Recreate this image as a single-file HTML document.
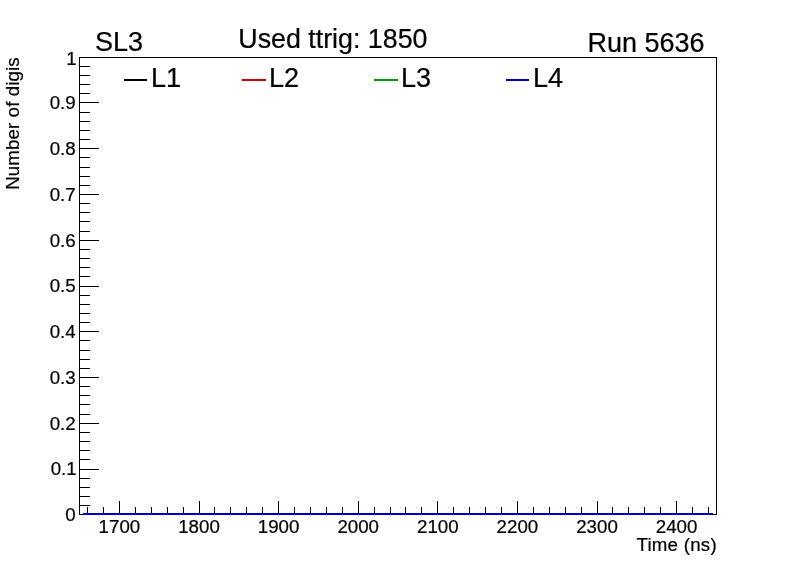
<!DOCTYPE html><html><head><meta charset="utf-8"><title>SL3</title>
<style>html,body{margin:0;padding:0;background:#fff}svg{display:block}text{font-family:"Liberation Sans",Arial,Helvetica,sans-serif;fill:#000;stroke:#000;stroke-width:0.22px;stroke-linejoin:round}</style></head><body>
<svg width="796" height="572" viewBox="0 0 796 572">
<rect width="796" height="572" fill="#fff"/>
<g shape-rendering="crispEdges" stroke="#000" stroke-width="1" fill="none">
<rect x="79.5" y="57.5" width="637" height="457"/>
<line x1="79.5" y1="514.5" x2="98.5" y2="514.5"/>
<line x1="79.5" y1="505.5" x2="89.5" y2="505.5"/>
<line x1="79.5" y1="496.5" x2="89.5" y2="496.5"/>
<line x1="79.5" y1="487.5" x2="89.5" y2="487.5"/>
<line x1="79.5" y1="478.5" x2="89.5" y2="478.5"/>
<line x1="79.5" y1="469.5" x2="98.5" y2="469.5"/>
<line x1="79.5" y1="459.5" x2="89.5" y2="459.5"/>
<line x1="79.5" y1="450.5" x2="89.5" y2="450.5"/>
<line x1="79.5" y1="441.5" x2="89.5" y2="441.5"/>
<line x1="79.5" y1="432.5" x2="89.5" y2="432.5"/>
<line x1="79.5" y1="423.5" x2="98.5" y2="423.5"/>
<line x1="79.5" y1="414.5" x2="89.5" y2="414.5"/>
<line x1="79.5" y1="404.5" x2="89.5" y2="404.5"/>
<line x1="79.5" y1="395.5" x2="89.5" y2="395.5"/>
<line x1="79.5" y1="386.5" x2="89.5" y2="386.5"/>
<line x1="79.5" y1="377.5" x2="98.5" y2="377.5"/>
<line x1="79.5" y1="368.5" x2="89.5" y2="368.5"/>
<line x1="79.5" y1="359.5" x2="89.5" y2="359.5"/>
<line x1="79.5" y1="350.5" x2="89.5" y2="350.5"/>
<line x1="79.5" y1="340.5" x2="89.5" y2="340.5"/>
<line x1="79.5" y1="331.5" x2="98.5" y2="331.5"/>
<line x1="79.5" y1="322.5" x2="89.5" y2="322.5"/>
<line x1="79.5" y1="313.5" x2="89.5" y2="313.5"/>
<line x1="79.5" y1="304.5" x2="89.5" y2="304.5"/>
<line x1="79.5" y1="295.5" x2="89.5" y2="295.5"/>
<line x1="79.5" y1="286.5" x2="98.5" y2="286.5"/>
<line x1="79.5" y1="276.5" x2="89.5" y2="276.5"/>
<line x1="79.5" y1="267.5" x2="89.5" y2="267.5"/>
<line x1="79.5" y1="258.5" x2="89.5" y2="258.5"/>
<line x1="79.5" y1="249.5" x2="89.5" y2="249.5"/>
<line x1="79.5" y1="240.5" x2="98.5" y2="240.5"/>
<line x1="79.5" y1="231.5" x2="89.5" y2="231.5"/>
<line x1="79.5" y1="221.5" x2="89.5" y2="221.5"/>
<line x1="79.5" y1="212.5" x2="89.5" y2="212.5"/>
<line x1="79.5" y1="203.5" x2="89.5" y2="203.5"/>
<line x1="79.5" y1="194.5" x2="98.5" y2="194.5"/>
<line x1="79.5" y1="185.5" x2="89.5" y2="185.5"/>
<line x1="79.5" y1="176.5" x2="89.5" y2="176.5"/>
<line x1="79.5" y1="167.5" x2="89.5" y2="167.5"/>
<line x1="79.5" y1="157.5" x2="89.5" y2="157.5"/>
<line x1="79.5" y1="148.5" x2="98.5" y2="148.5"/>
<line x1="79.5" y1="139.5" x2="89.5" y2="139.5"/>
<line x1="79.5" y1="130.5" x2="89.5" y2="130.5"/>
<line x1="79.5" y1="121.5" x2="89.5" y2="121.5"/>
<line x1="79.5" y1="112.5" x2="89.5" y2="112.5"/>
<line x1="79.5" y1="102.5" x2="98.5" y2="102.5"/>
<line x1="79.5" y1="93.5" x2="89.5" y2="93.5"/>
<line x1="79.5" y1="84.5" x2="89.5" y2="84.5"/>
<line x1="79.5" y1="75.5" x2="89.5" y2="75.5"/>
<line x1="79.5" y1="66.5" x2="89.5" y2="66.5"/>
<line x1="79.5" y1="57.5" x2="98.5" y2="57.5"/>
<line x1="87.5" y1="514.5" x2="87.5" y2="506.5"/>
<line x1="103.5" y1="514.5" x2="103.5" y2="506.5"/>
<line x1="119.5" y1="514.5" x2="119.5" y2="500.5"/>
<line x1="135.5" y1="514.5" x2="135.5" y2="506.5"/>
<line x1="151.5" y1="514.5" x2="151.5" y2="506.5"/>
<line x1="167.5" y1="514.5" x2="167.5" y2="506.5"/>
<line x1="183.5" y1="514.5" x2="183.5" y2="506.5"/>
<line x1="199.5" y1="514.5" x2="199.5" y2="500.5"/>
<line x1="214.5" y1="514.5" x2="214.5" y2="506.5"/>
<line x1="230.5" y1="514.5" x2="230.5" y2="506.5"/>
<line x1="246.5" y1="514.5" x2="246.5" y2="506.5"/>
<line x1="262.5" y1="514.5" x2="262.5" y2="506.5"/>
<line x1="278.5" y1="514.5" x2="278.5" y2="500.5"/>
<line x1="294.5" y1="514.5" x2="294.5" y2="506.5"/>
<line x1="310.5" y1="514.5" x2="310.5" y2="506.5"/>
<line x1="326.5" y1="514.5" x2="326.5" y2="506.5"/>
<line x1="342.5" y1="514.5" x2="342.5" y2="506.5"/>
<line x1="358.5" y1="514.5" x2="358.5" y2="500.5"/>
<line x1="374.5" y1="514.5" x2="374.5" y2="506.5"/>
<line x1="390.5" y1="514.5" x2="390.5" y2="506.5"/>
<line x1="405.5" y1="514.5" x2="405.5" y2="506.5"/>
<line x1="421.5" y1="514.5" x2="421.5" y2="506.5"/>
<line x1="437.5" y1="514.5" x2="437.5" y2="500.5"/>
<line x1="453.5" y1="514.5" x2="453.5" y2="506.5"/>
<line x1="469.5" y1="514.5" x2="469.5" y2="506.5"/>
<line x1="485.5" y1="514.5" x2="485.5" y2="506.5"/>
<line x1="501.5" y1="514.5" x2="501.5" y2="506.5"/>
<line x1="517.5" y1="514.5" x2="517.5" y2="500.5"/>
<line x1="533.5" y1="514.5" x2="533.5" y2="506.5"/>
<line x1="549.5" y1="514.5" x2="549.5" y2="506.5"/>
<line x1="565.5" y1="514.5" x2="565.5" y2="506.5"/>
<line x1="581.5" y1="514.5" x2="581.5" y2="506.5"/>
<line x1="597.5" y1="514.5" x2="597.5" y2="500.5"/>
<line x1="612.5" y1="514.5" x2="612.5" y2="506.5"/>
<line x1="628.5" y1="514.5" x2="628.5" y2="506.5"/>
<line x1="644.5" y1="514.5" x2="644.5" y2="506.5"/>
<line x1="660.5" y1="514.5" x2="660.5" y2="506.5"/>
<line x1="676.5" y1="514.5" x2="676.5" y2="500.5"/>
<line x1="692.5" y1="514.5" x2="692.5" y2="506.5"/>
<line x1="708.5" y1="514.5" x2="708.5" y2="506.5"/>
</g>
<g shape-rendering="crispEdges">
<rect x="83" y="513" width="630" height="2" fill="#000000"/>
<rect x="83" y="513" width="630" height="2" fill="#cc0000"/>
<rect x="83" y="513" width="630" height="2" fill="#009900"/>
<rect x="83" y="513" width="630" height="2" fill="#0000cc"/>
</g>
<text x="75.7" y="521.1" font-size="18.7" text-anchor="end">0</text>
<text x="76.7" y="475.3" font-size="18.7" text-anchor="end">0.1</text>
<text x="75.7" y="429.6" font-size="18.7" text-anchor="end">0.2</text>
<text x="75.7" y="383.8" font-size="18.7" text-anchor="end">0.3</text>
<text x="75.7" y="338.1" font-size="18.7" text-anchor="end">0.4</text>
<text x="75.7" y="292.3" font-size="18.7" text-anchor="end">0.5</text>
<text x="75.7" y="246.5" font-size="18.7" text-anchor="end">0.6</text>
<text x="75.7" y="200.8" font-size="18.7" text-anchor="end">0.7</text>
<text x="75.7" y="155.0" font-size="18.7" text-anchor="end">0.8</text>
<text x="75.7" y="109.3" font-size="18.7" text-anchor="end">0.9</text>
<text x="76.7" y="64.5" font-size="18.7" text-anchor="end">1</text>
<text x="119.4" y="533" font-size="18.7" text-anchor="middle">1700</text>
<text x="199.0" y="533" font-size="18.7" text-anchor="middle">1800</text>
<text x="278.6" y="533" font-size="18.7" text-anchor="middle">1900</text>
<text x="358.2" y="533" font-size="18.7" text-anchor="middle">2000</text>
<text x="437.8" y="533" font-size="18.7" text-anchor="middle">2100</text>
<text x="517.4" y="533" font-size="18.7" text-anchor="middle">2200</text>
<text x="597.0" y="533" font-size="18.7" text-anchor="middle">2300</text>
<text x="676.6" y="533" font-size="18.7" text-anchor="middle">2400</text>
<text x="716.9" y="550.8" font-size="18.7" text-anchor="end" letter-spacing="0.25">Time (ns)</text>
<text transform="translate(19.2,57.2) rotate(-90)" font-size="18.7" text-anchor="end" letter-spacing="0.12">Number of digis</text>
<text x="94.9" y="51.3" font-size="27">SL3</text>
<text x="238.3" y="47.6" font-size="26.8">Used ttrig: 1850</text>
<text x="704.5" y="52.2" font-size="27" text-anchor="end">Run 5636</text>
<rect x="124" y="79" width="23" height="2" fill="#000000" shape-rendering="crispEdges"/>
<text x="151" y="87" font-size="27">L1</text>
<rect x="242" y="79" width="24" height="2" fill="#cc0000" shape-rendering="crispEdges"/>
<text x="269" y="87" font-size="27">L2</text>
<rect x="374" y="79" width="24" height="2" fill="#009900" shape-rendering="crispEdges"/>
<text x="401" y="87" font-size="27">L3</text>
<rect x="506" y="79" width="23" height="2" fill="#0000cc" shape-rendering="crispEdges"/>
<text x="533" y="87" font-size="27">L4</text>
</svg></body></html>
